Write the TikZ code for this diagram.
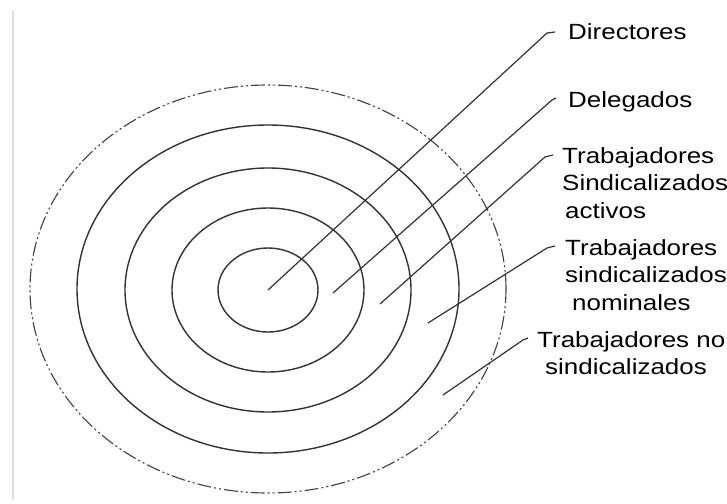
\documentclass[tikz,border=0pt]{standalone}
\usepackage{fontspec}
\setmainfont{Liberation Sans}[FakeStretch=1.18]
\usetikzlibrary{calc}

\tikzset{
  anillo/.style={draw=black!80, line width=1.4pt},
  guia/.style={draw=black!80, line width=1.2pt},
  etiqueta/.style={anchor=base west, align=left, inner sep=0pt,
    font=\fontsize{22}{27.5}\selectfont}
}

\begin{document}
\begin{tikzpicture}[x=1pt, y=-1pt]
    \useasboundingbox (0,0) rectangle (727,503);
    \draw[black!12, line width=1.5pt] (13,10) -- (13,500);
    % anillos
    \draw[black!75, line width=1.1pt, dash pattern=on 14pt off 3pt on 2pt off 3pt on 2pt off 3pt] (268,289) ellipse (238 and 204);
    \draw[anillo] (268,289) ellipse (191 and 164);
    \draw[anillo] (268,290) ellipse (143 and 122);
    \draw[anillo] (268,290) ellipse (96 and 82);
    \draw[anillo] (268,290) ellipse (50 and 42);
    % puntos de partida
    \coordinate (c1) at (268,290);
    \coordinate (c2) at (333,293);
    \coordinate (c3) at (380,304);
    \coordinate (c4) at (428,323);
    \coordinate (c5) at (443,395);
    % etiquetas (la base es la de la ultima linea)
    \node[etiqueta] (dir) at (568,40) {Directores};
    \node[etiqueta] (del) at (568,107) {Delegados};
    \node[etiqueta] (act) at (562,218) {Trabajadores\\Sindicalizados\\\hspace*{3pt}activos};
    \node[etiqueta] (nom) at (565,310) {Trabajadores\\sindicalizados\\\hspace*{7pt}nominales};
    \node[etiqueta] (nos) at (537,374.5) {Trabajadores no\\\hspace*{8pt}sindicalizados};
    % lineas guia
    \draw[guia] (c1) -- ($(dir.base west)+(-21,-7)$) -- ($(dir.base west)+(-13,-8)$);
    \draw[guia] (c2) -- ($(del.base west)+(-16,-7)$) -- ($(del.base west)+(-12,-9)$);
    \draw[guia] (c3) -- ($(act.base west)+(-17,-61)$) -- ($(act.base west)+(-9,-63)$);
    \draw[guia] (c4) -- ($(nom.base west)+(-18,-62)$) -- ($(nom.base west)+(-10,-64)$);
    \draw[guia] (c5) -- ($(nos.base west)+(-14,-34.5)$) -- ($(nos.base west)+(-9,-36.5)$);
\end{tikzpicture}
\end{document}
